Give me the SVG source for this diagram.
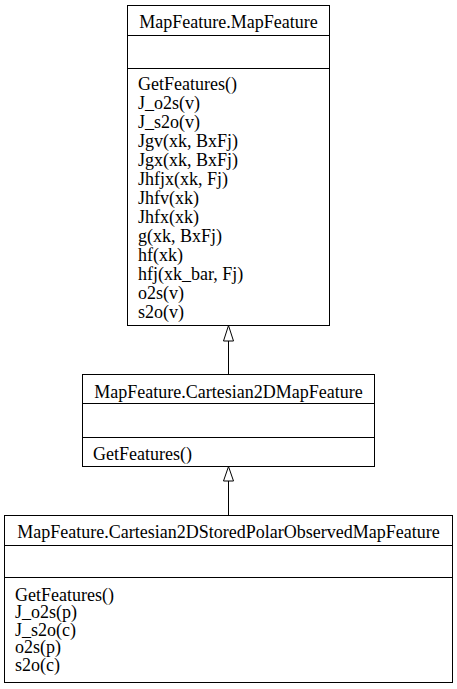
<svg xmlns="http://www.w3.org/2000/svg" width="457" height="689" viewBox="0 0 457 689">
<style>
.box{fill:#fff;stroke:#000;stroke-width:1}
.sep{stroke:#000;stroke-width:1}
text{font-family:"Liberation Serif","Times New Roman",serif;font-size:18px;fill:#000}
.t{text-anchor:middle}
.edge{stroke:#000;stroke-width:1;fill:none}
.head{fill:#fff;stroke:#000;stroke-width:1}
</style>
<rect width="457" height="689" fill="#fff"/>
<g id="connectors">
<line class="edge" x1="228.5" y1="341" x2="228.5" y2="374.5"/>
<polygon class="head" points="228.5,325.5 223.5,341 233.5,341"/>
<line class="edge" x1="228.5" y1="481" x2="228.5" y2="515.5"/>
<polygon class="head" points="228.5,466.5 223.5,481 233.5,481"/>
</g>
<g id="MapFeature">
<rect class="box" x="127.5" y="5.5" width="202" height="320"/>
<line class="sep" x1="127.5" y1="35.5" x2="329.5" y2="35.5"/>
<line class="sep" x1="127.5" y1="68.5" x2="329.5" y2="68.5"/>
<text class="t" x="228.5" y="28">MapFeature.MapFeature</text>
<text x="138" y="89.5">GetFeatures()</text>
<text x="138" y="108.5">J_o2s(v)</text>
<text x="138" y="127.5">J_s2o(v)</text>
<text x="138" y="146.5">Jgv(xk, BxFj)</text>
<text x="138" y="165.5">Jgx(xk, BxFj)</text>
<text x="138" y="184.5">Jhfjx(xk, Fj)</text>
<text x="138" y="203.5">Jhfv(xk)</text>
<text x="138" y="222.5">Jhfx(xk)</text>
<text x="138" y="241.5">g(xk, BxFj)</text>
<text x="138" y="260.5">hf(xk)</text>
<text x="138" y="279.5">hfj(xk_bar, Fj)</text>
<text x="138" y="298.5">o2s(v)</text>
<text x="138" y="317.5">s2o(v)</text>
</g>
<g id="Cartesian2DMapFeature">
<rect class="box" x="82.5" y="374.5" width="292" height="92"/>
<line class="sep" x1="82.5" y1="403.5" x2="374.5" y2="403.5"/>
<line class="sep" x1="82.5" y1="437.5" x2="374.5" y2="437.5"/>
<text class="t" x="228.5" y="398">MapFeature.Cartesian2DMapFeature</text>
<text x="93" y="460">GetFeatures()</text>
</g>
<g id="Cartesian2DStoredPolarObservedMapFeature">
<rect class="box" x="4.5" y="515.5" width="448" height="167"/>
<line class="sep" x1="4.5" y1="545.5" x2="452.5" y2="545.5"/>
<line class="sep" x1="4.5" y1="577.5" x2="452.5" y2="577.5"/>
<text class="t" x="228.5" y="538">MapFeature.Cartesian2DStoredPolarObservedMapFeature</text>
<text x="15" y="600.5">GetFeatures()</text>
<text x="15" y="618">J_o2s(p)</text>
<text x="15" y="635.5">J_s2o(c)</text>
<text x="15" y="653">o2s(p)</text>
<text x="15" y="670.5">s2o(c)</text>
</g>
</svg>
